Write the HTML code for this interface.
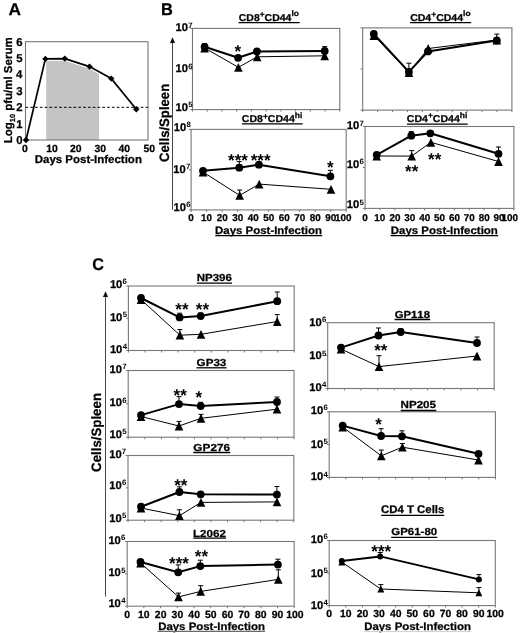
<!DOCTYPE html>
<html><head><meta charset="utf-8"><style>
html,body{margin:0;padding:0;background:#fff;}
svg{display:block;font-family:"Liberation Sans", sans-serif;font-kerning:none;text-rendering:geometricPrecision;filter:blur(0.45px);}
text{stroke:#000;stroke-width:0.25px;}
text.s,text.e{stroke:none;}
</style></head><body>
<svg width="520" height="633" viewBox="0 0 520 633">
<rect width="520" height="633" fill="#fff"/>
<g transform="translate(8.47,14.5) scale(1.0171,1)"><text x="0" y="0" font-size="17" font-weight="bold">A</text></g>
<polygon points="46.2,140 46.2,61 64.6,60.8 89.5,68.8 99.0,74.0 99.0,140" fill="#c4c4c4"/>
<rect x="25.5" y="41.7" width="122.5" height="98.3" fill="none" stroke="#777777" stroke-width="1.1"/>
<line x1="25.5" y1="107.3" x2="148" y2="107.3" stroke="#000" stroke-width="1" stroke-dasharray="2.7,2.1"/>
<text x="16.33" y="144" font-size="11.4" font-weight="bold">0</text>
<text x="16.18" y="127.62" font-size="11.4" font-weight="bold">1</text>
<text x="16.32" y="111.24" font-size="11.4" font-weight="bold">2</text>
<text x="16.27" y="94.86" font-size="11.4" font-weight="bold">3</text>
<text x="15.92" y="78.48" font-size="11.4" font-weight="bold">4</text>
<text x="16.18" y="62.1" font-size="11.4" font-weight="bold">5</text>
<text x="16.27" y="45.72" font-size="11.4" font-weight="bold">6</text>
<g transform="translate(22.12,151.7) scale(1.0000,1)"><text x="0" y="0" font-size="10.4" font-weight="bold">0</text></g>
<g transform="translate(46.2,151.7) scale(1.0000,1)"><text x="0" y="0" font-size="10.4" font-weight="bold">10</text></g>
<g transform="translate(69.95,151.7) scale(1.0000,1)"><text x="0" y="0" font-size="10.4" font-weight="bold">20</text></g>
<g transform="translate(94.51,151.7) scale(1.0000,1)"><text x="0" y="0" font-size="10.4" font-weight="bold">30</text></g>
<g transform="translate(118.55,151.7) scale(1.0000,1)"><text x="0" y="0" font-size="10.4" font-weight="bold">40</text></g>
<g transform="translate(143.47,151.7) scale(1.0000,1)"><text x="0" y="0" font-size="10.4" font-weight="bold">50</text></g>
<polyline points="26,140 45.4,58.9 64.8,58.6 89.5,66.6 111.3,78.6 136.3,109.2" fill="none" stroke="#000" stroke-width="1.7" stroke-linejoin="round"/>
<polygon points="26,136.8 29.2,140 26,143.2 22.8,140" fill="#000"/>
<polygon points="45.4,55.7 48.6,58.9 45.4,62.1 42.2,58.9" fill="#000"/>
<polygon points="64.8,55.4 68,58.6 64.8,61.8 61.6,58.6" fill="#000"/>
<polygon points="89.5,63.4 92.7,66.6 89.5,69.8 86.3,66.6" fill="#000"/>
<polygon points="111.3,75.4 114.5,78.6 111.3,81.8 108.1,78.6" fill="#000"/>
<polygon points="136.3,106 139.5,109.2 136.3,112.4 133.1,109.2" fill="#000"/>
<g transform="translate(34.73,163) scale(1.0261,1)"><text x="0" y="0" font-size="11.2" font-weight="bold">Days Post-Infection</text></g>
<g transform="translate(11.7,143.17) rotate(-90) scale(0.9985,1)"><text x="0" y="0" font-size="11.5" font-weight="bold">Log</text><text x="21.07" y="3" font-size="7.36" font-weight="bold">10</text><text x="32.46" y="0" font-size="11.5" font-weight="bold">pfu/ml Serum</text></g>
<g transform="translate(161.1,14.7) scale(0.9645,1)"><text x="0" y="0" font-size="17" font-weight="bold">B</text></g>
<g transform="translate(168.8,161.94) rotate(-90) scale(0.9663,1)"><text x="0" y="0" font-size="13.6" font-weight="bold">Cells/Spleen</text></g>
<line x1="172.5" y1="209.8" x2="172.5" y2="41" stroke="#444" stroke-width="1"/>
<polygon points="172.5,37.2 169.9,43.0 175.1,43.0" fill="#111"/>
<rect x="192.5" y="28.4" width="147.3" height="81.2" fill="none" stroke="#777777" stroke-width="1.1"/>
<line x1="192.5" y1="109.6" x2="192.5" y2="111.6" stroke="#777777" stroke-width="1"/>
<line x1="207.23" y1="109.6" x2="207.23" y2="111.6" stroke="#777777" stroke-width="1"/>
<line x1="221.96" y1="109.6" x2="221.96" y2="111.6" stroke="#777777" stroke-width="1"/>
<line x1="236.69" y1="109.6" x2="236.69" y2="111.6" stroke="#777777" stroke-width="1"/>
<line x1="251.42" y1="109.6" x2="251.42" y2="111.6" stroke="#777777" stroke-width="1"/>
<line x1="266.15" y1="109.6" x2="266.15" y2="111.6" stroke="#777777" stroke-width="1"/>
<line x1="280.88" y1="109.6" x2="280.88" y2="111.6" stroke="#777777" stroke-width="1"/>
<line x1="295.61" y1="109.6" x2="295.61" y2="111.6" stroke="#777777" stroke-width="1"/>
<line x1="310.34" y1="109.6" x2="310.34" y2="111.6" stroke="#777777" stroke-width="1"/>
<line x1="325.07" y1="109.6" x2="325.07" y2="111.6" stroke="#777777" stroke-width="1"/>
<line x1="339.8" y1="109.6" x2="339.8" y2="111.6" stroke="#777777" stroke-width="1"/>
<line x1="190.3" y1="28.4" x2="192.5" y2="28.4" stroke="#777777" stroke-width="1"/>
<line x1="190.3" y1="69" x2="192.5" y2="69" stroke="#777777" stroke-width="1"/>
<line x1="190.3" y1="109.6" x2="192.5" y2="109.6" stroke="#777777" stroke-width="1"/>
<text x="175.5" y="31.4" font-size="11.2" font-weight="bold">10</text>
<text x="188.16" y="27.6" font-size="7.8" font-weight="bold" class="e">7</text>
<text x="175.5" y="72.4" font-size="11.2" font-weight="bold">10</text>
<text x="188.21" y="68.6" font-size="7.8" font-weight="bold" class="e">6</text>
<text x="175.5" y="111" font-size="11.2" font-weight="bold">10</text>
<text x="188.26" y="107.2" font-size="7.8" font-weight="bold" class="e">5</text>
<g transform="translate(238.77,20.7) scale(1.0472,1)"><text x="0" y="0" font-size="10" font-weight="bold">CD8</text><text x="20" y="-3.6" font-size="8" font-weight="bold">+</text><text x="24.68" y="0" font-size="10" font-weight="bold">CD44</text><text x="50.24" y="-4.4" font-size="8" font-weight="bold">lo</text></g>
<line x1="238.5" y1="22.6" x2="299.7" y2="22.6" stroke="#000" stroke-width="1.3"/>
<polyline points="204.6,48 238.4,67.3 257.2,56.8 324.7,55.8" fill="none" stroke="#000" stroke-width="1" stroke-linejoin="round"/>
<polygon points="204.6,43.6 208.9,52.4 200.3,52.4" fill="#000"/>
<polygon points="238.4,62.9 242.7,71.7 234.1,71.7" fill="#000"/>
<polygon points="257.2,52.4 261.5,61.2 252.9,61.2" fill="#000"/>
<polygon points="324.7,51.4 329,60.2 320.4,60.2" fill="#000"/>
<polyline points="204.6,46.8 238.1,57.8 256.9,51.5 324.7,51" fill="none" stroke="#000" stroke-width="2" stroke-linejoin="round"/>
<circle cx="204.6" cy="46.8" r="3.9" fill="#000"/>
<circle cx="238.1" cy="57.8" r="3.9" fill="#000"/>
<circle cx="256.9" cy="51.5" r="3.9" fill="#000"/>
<circle cx="324.7" cy="51" r="3.9" fill="#000"/>
<line x1="324.7" y1="51" x2="324.7" y2="46.6" stroke="#000" stroke-width="1"/>
<line x1="322.2" y1="46.6" x2="327.2" y2="46.6" stroke="#000" stroke-width="1"/>
<line x1="204.6" y1="46.8" x2="204.6" y2="43.5" stroke="#000" stroke-width="1"/>
<line x1="202.1" y1="43.5" x2="207.1" y2="43.5" stroke="#000" stroke-width="1"/>
<text x="234.48" y="57.23" font-size="17" font-weight="bold" class="s">*</text>
<rect x="362.7" y="27.9" width="149.2" height="82.2" fill="none" stroke="#777777" stroke-width="1.1"/>
<line x1="362.7" y1="110.1" x2="362.7" y2="112.1" stroke="#777777" stroke-width="1"/>
<line x1="377.62" y1="110.1" x2="377.62" y2="112.1" stroke="#777777" stroke-width="1"/>
<line x1="392.54" y1="110.1" x2="392.54" y2="112.1" stroke="#777777" stroke-width="1"/>
<line x1="407.46" y1="110.1" x2="407.46" y2="112.1" stroke="#777777" stroke-width="1"/>
<line x1="422.38" y1="110.1" x2="422.38" y2="112.1" stroke="#777777" stroke-width="1"/>
<line x1="437.3" y1="110.1" x2="437.3" y2="112.1" stroke="#777777" stroke-width="1"/>
<line x1="452.22" y1="110.1" x2="452.22" y2="112.1" stroke="#777777" stroke-width="1"/>
<line x1="467.14" y1="110.1" x2="467.14" y2="112.1" stroke="#777777" stroke-width="1"/>
<line x1="482.06" y1="110.1" x2="482.06" y2="112.1" stroke="#777777" stroke-width="1"/>
<line x1="496.98" y1="110.1" x2="496.98" y2="112.1" stroke="#777777" stroke-width="1"/>
<line x1="511.9" y1="110.1" x2="511.9" y2="112.1" stroke="#777777" stroke-width="1"/>
<line x1="360.5" y1="27.9" x2="362.7" y2="27.9" stroke="#777777" stroke-width="1"/>
<line x1="360.5" y1="69" x2="362.7" y2="69" stroke="#777777" stroke-width="1"/>
<line x1="360.5" y1="110.1" x2="362.7" y2="110.1" stroke="#777777" stroke-width="1"/>
<g transform="translate(410.17,20.8) scale(1.0524,1)"><text x="0" y="0" font-size="10" font-weight="bold">CD4</text><text x="20" y="-3.6" font-size="8" font-weight="bold">+</text><text x="24.68" y="0" font-size="10" font-weight="bold">CD44</text><text x="50.24" y="-4.4" font-size="8" font-weight="bold">lo</text></g>
<line x1="410" y1="22.7" x2="471.2" y2="22.7" stroke="#000" stroke-width="1.3"/>
<line x1="408.9" y1="71.9" x2="408.9" y2="63.2" stroke="#000" stroke-width="1"/>
<line x1="406.4" y1="63.2" x2="411.4" y2="63.2" stroke="#000" stroke-width="1"/>
<line x1="496.8" y1="40.5" x2="496.8" y2="34.1" stroke="#000" stroke-width="1"/>
<line x1="494.3" y1="34.1" x2="499.3" y2="34.1" stroke="#000" stroke-width="1"/>
<polyline points="373.8,35.5 409,72.5 428.2,48.5 496.8,40" fill="none" stroke="#000" stroke-width="1" stroke-linejoin="round"/>
<polygon points="373.8,31.1 378.1,39.9 369.5,39.9" fill="#000"/>
<polygon points="409,68.1 413.3,76.9 404.7,76.9" fill="#000"/>
<polygon points="428.2,44.1 432.5,52.9 423.9,52.9" fill="#000"/>
<polygon points="496.8,35.6 501.1,44.4 492.5,44.4" fill="#000"/>
<polyline points="373.8,33.9 408.9,71.9 428,51.4 496.8,40.5" fill="none" stroke="#000" stroke-width="2" stroke-linejoin="round"/>
<circle cx="373.8" cy="33.9" r="3.9" fill="#000"/>
<circle cx="408.9" cy="71.9" r="3.9" fill="#000"/>
<circle cx="428" cy="51.4" r="3.9" fill="#000"/>
<circle cx="496.8" cy="40.5" r="3.9" fill="#000"/>
<rect x="191.1" y="129.4" width="155.1" height="80.5" fill="none" stroke="#777777" stroke-width="1.1"/>
<line x1="191.1" y1="209.9" x2="191.1" y2="211.9" stroke="#777777" stroke-width="1"/>
<line x1="206.61" y1="209.9" x2="206.61" y2="211.9" stroke="#777777" stroke-width="1"/>
<line x1="222.12" y1="209.9" x2="222.12" y2="211.9" stroke="#777777" stroke-width="1"/>
<line x1="237.63" y1="209.9" x2="237.63" y2="211.9" stroke="#777777" stroke-width="1"/>
<line x1="253.14" y1="209.9" x2="253.14" y2="211.9" stroke="#777777" stroke-width="1"/>
<line x1="268.65" y1="209.9" x2="268.65" y2="211.9" stroke="#777777" stroke-width="1"/>
<line x1="284.16" y1="209.9" x2="284.16" y2="211.9" stroke="#777777" stroke-width="1"/>
<line x1="299.67" y1="209.9" x2="299.67" y2="211.9" stroke="#777777" stroke-width="1"/>
<line x1="315.18" y1="209.9" x2="315.18" y2="211.9" stroke="#777777" stroke-width="1"/>
<line x1="330.69" y1="209.9" x2="330.69" y2="211.9" stroke="#777777" stroke-width="1"/>
<line x1="346.2" y1="209.9" x2="346.2" y2="211.9" stroke="#777777" stroke-width="1"/>
<line x1="188.9" y1="129.4" x2="191.1" y2="129.4" stroke="#777777" stroke-width="1"/>
<line x1="188.9" y1="169.9" x2="191.1" y2="169.9" stroke="#777777" stroke-width="1"/>
<line x1="188.9" y1="209.9" x2="191.1" y2="209.9" stroke="#777777" stroke-width="1"/>
<text x="173.8" y="130.9" font-size="11.2" font-weight="bold">10</text>
<text x="186.55" y="127.1" font-size="7.8" font-weight="bold" class="e">8</text>
<text x="173.3" y="172.5" font-size="11.2" font-weight="bold">10</text>
<text x="185.96" y="168.7" font-size="7.8" font-weight="bold" class="e">7</text>
<text x="173.6" y="210.8" font-size="11.2" font-weight="bold">10</text>
<text x="186.31" y="207" font-size="7.8" font-weight="bold" class="e">6</text>
<g transform="translate(241.87,122.2) scale(1.0536,1)"><text x="0" y="0" font-size="10" font-weight="bold">CD8</text><text x="20" y="-3.6" font-size="8" font-weight="bold">+</text><text x="24.68" y="0" font-size="10" font-weight="bold">CD44</text><text x="50.24" y="-4.4" font-size="8" font-weight="bold">hi</text></g>
<line x1="241.9" y1="123.8" x2="302.7" y2="123.8" stroke="#000" stroke-width="1.3"/>
<g transform="translate(188.35,220.6) scale(1.0000,1)"><text x="0" y="0" font-size="9.9" font-weight="bold">0</text></g>
<g transform="translate(201,220.6) scale(1.0000,1)"><text x="0" y="0" font-size="9.9" font-weight="bold">10</text></g>
<g transform="translate(216.65,220.6) scale(1.0000,1)"><text x="0" y="0" font-size="9.9" font-weight="bold">20</text></g>
<g transform="translate(232.21,220.6) scale(1.0000,1)"><text x="0" y="0" font-size="9.9" font-weight="bold">30</text></g>
<g transform="translate(247.76,220.6) scale(1.0000,1)"><text x="0" y="0" font-size="9.9" font-weight="bold">40</text></g>
<g transform="translate(263.19,220.6) scale(1.0000,1)"><text x="0" y="0" font-size="9.9" font-weight="bold">50</text></g>
<g transform="translate(278.68,220.6) scale(1.0000,1)"><text x="0" y="0" font-size="9.9" font-weight="bold">60</text></g>
<g transform="translate(294.15,220.6) scale(1.0000,1)"><text x="0" y="0" font-size="9.9" font-weight="bold">70</text></g>
<g transform="translate(309.72,220.6) scale(1.0000,1)"><text x="0" y="0" font-size="9.9" font-weight="bold">80</text></g>
<g transform="translate(325.22,220.6) scale(1.0000,1)"><text x="0" y="0" font-size="9.9" font-weight="bold">90</text></g>
<g transform="translate(334.93,220.6) scale(1.0000,1)"><text x="0" y="0" font-size="9.9" font-weight="bold">100</text></g>
<g transform="translate(215.03,233.8) scale(1.0601,1)"><text x="0" y="0" font-size="10.8" font-weight="bold">Days Post-Infection</text></g>
<line x1="215.3" y1="235.6" x2="322.2" y2="235.6" stroke="#000" stroke-width="1.3"/>
<line x1="239.3" y1="167.7" x2="239.3" y2="161.6" stroke="#000" stroke-width="1"/>
<line x1="236.8" y1="161.6" x2="241.8" y2="161.6" stroke="#000" stroke-width="1"/>
<line x1="239.7" y1="195.4" x2="239.7" y2="190" stroke="#000" stroke-width="1"/>
<line x1="237.2" y1="190" x2="242.2" y2="190" stroke="#000" stroke-width="1"/>
<line x1="330.4" y1="176.3" x2="330.4" y2="170.3" stroke="#000" stroke-width="1"/>
<line x1="327.9" y1="170.3" x2="332.9" y2="170.3" stroke="#000" stroke-width="1"/>
<polyline points="203,172 239.7,195.4 259.2,184.1 331,189.3" fill="none" stroke="#000" stroke-width="1" stroke-linejoin="round"/>
<polygon points="203,167.6 207.3,176.4 198.7,176.4" fill="#000"/>
<polygon points="239.7,191 244,199.8 235.4,199.8" fill="#000"/>
<polygon points="259.2,179.7 263.5,188.5 254.9,188.5" fill="#000"/>
<polygon points="331,184.9 335.3,193.7 326.7,193.7" fill="#000"/>
<polyline points="203,170.8 239.3,167.7 258.9,164.7 330.4,176.3" fill="none" stroke="#000" stroke-width="2" stroke-linejoin="round"/>
<circle cx="203" cy="170.8" r="3.9" fill="#000"/>
<circle cx="239.3" cy="167.7" r="3.9" fill="#000"/>
<circle cx="258.9" cy="164.7" r="3.9" fill="#000"/>
<circle cx="330.4" cy="176.3" r="3.9" fill="#000"/>
<text x="228.06" y="166.03" font-size="17" font-weight="bold" class="s">***</text>
<text x="250.66" y="166.03" font-size="17" font-weight="bold" class="s">***</text>
<text x="327.08" y="173.23" font-size="17" font-weight="bold" class="s">*</text>
<rect x="365.1" y="126.5" width="148.8" height="81.9" fill="none" stroke="#777777" stroke-width="1.1"/>
<line x1="365.1" y1="208.4" x2="365.1" y2="210.4" stroke="#777777" stroke-width="1"/>
<line x1="379.98" y1="208.4" x2="379.98" y2="210.4" stroke="#777777" stroke-width="1"/>
<line x1="394.86" y1="208.4" x2="394.86" y2="210.4" stroke="#777777" stroke-width="1"/>
<line x1="409.74" y1="208.4" x2="409.74" y2="210.4" stroke="#777777" stroke-width="1"/>
<line x1="424.62" y1="208.4" x2="424.62" y2="210.4" stroke="#777777" stroke-width="1"/>
<line x1="439.5" y1="208.4" x2="439.5" y2="210.4" stroke="#777777" stroke-width="1"/>
<line x1="454.38" y1="208.4" x2="454.38" y2="210.4" stroke="#777777" stroke-width="1"/>
<line x1="469.26" y1="208.4" x2="469.26" y2="210.4" stroke="#777777" stroke-width="1"/>
<line x1="484.14" y1="208.4" x2="484.14" y2="210.4" stroke="#777777" stroke-width="1"/>
<line x1="499.02" y1="208.4" x2="499.02" y2="210.4" stroke="#777777" stroke-width="1"/>
<line x1="513.9" y1="208.4" x2="513.9" y2="210.4" stroke="#777777" stroke-width="1"/>
<line x1="362.9" y1="126.5" x2="365.1" y2="126.5" stroke="#777777" stroke-width="1"/>
<line x1="362.9" y1="167.45" x2="365.1" y2="167.45" stroke="#777777" stroke-width="1"/>
<line x1="362.9" y1="208.4" x2="365.1" y2="208.4" stroke="#777777" stroke-width="1"/>
<text x="346.8" y="129.4" font-size="11.2" font-weight="bold">10</text>
<text x="359.46" y="125.6" font-size="7.8" font-weight="bold" class="e">7</text>
<text x="346.8" y="168.15" font-size="11.2" font-weight="bold">10</text>
<text x="359.51" y="164.35" font-size="7.8" font-weight="bold" class="e">6</text>
<text x="346.8" y="208.3" font-size="11.2" font-weight="bold">10</text>
<text x="359.56" y="204.5" font-size="7.8" font-weight="bold" class="e">5</text>
<g transform="translate(406.87,121.9) scale(1.0536,1)"><text x="0" y="0" font-size="10" font-weight="bold">CD4</text><text x="20" y="-3.6" font-size="8" font-weight="bold">+</text><text x="24.68" y="0" font-size="10" font-weight="bold">CD44</text><text x="50.24" y="-4.4" font-size="8" font-weight="bold">hi</text></g>
<line x1="406.9" y1="124.1" x2="467.7" y2="124.1" stroke="#000" stroke-width="1.3"/>
<g transform="translate(362.35,220.6) scale(1.0000,1)"><text x="0" y="0" font-size="9.9" font-weight="bold">0</text></g>
<g transform="translate(374.37,220.6) scale(1.0000,1)"><text x="0" y="0" font-size="9.9" font-weight="bold">10</text></g>
<g transform="translate(389.39,220.6) scale(1.0000,1)"><text x="0" y="0" font-size="9.9" font-weight="bold">20</text></g>
<g transform="translate(404.32,220.6) scale(1.0000,1)"><text x="0" y="0" font-size="9.9" font-weight="bold">30</text></g>
<g transform="translate(419.24,220.6) scale(1.0000,1)"><text x="0" y="0" font-size="9.9" font-weight="bold">40</text></g>
<g transform="translate(434.04,220.6) scale(1.0000,1)"><text x="0" y="0" font-size="9.9" font-weight="bold">50</text></g>
<g transform="translate(448.9,220.6) scale(1.0000,1)"><text x="0" y="0" font-size="9.9" font-weight="bold">60</text></g>
<g transform="translate(463.74,220.6) scale(1.0000,1)"><text x="0" y="0" font-size="9.9" font-weight="bold">70</text></g>
<g transform="translate(478.68,220.6) scale(1.0000,1)"><text x="0" y="0" font-size="9.9" font-weight="bold">80</text></g>
<g transform="translate(493.55,220.6) scale(1.0000,1)"><text x="0" y="0" font-size="9.9" font-weight="bold">90</text></g>
<g transform="translate(501.43,220.6) scale(1.0000,1)"><text x="0" y="0" font-size="9.9" font-weight="bold">100</text></g>
<g transform="translate(390.73,233.7) scale(1.0631,1)"><text x="0" y="0" font-size="10.8" font-weight="bold">Days Post-Infection</text></g>
<line x1="390.6" y1="235.6" x2="498.2" y2="235.6" stroke="#000" stroke-width="1.3"/>
<line x1="411.3" y1="135.7" x2="411.3" y2="131.6" stroke="#000" stroke-width="1"/>
<line x1="408.8" y1="131.6" x2="413.8" y2="131.6" stroke="#000" stroke-width="1"/>
<line x1="411.7" y1="156.1" x2="411.7" y2="150.6" stroke="#000" stroke-width="1"/>
<line x1="409.2" y1="150.6" x2="414.2" y2="150.6" stroke="#000" stroke-width="1"/>
<line x1="498.5" y1="153.8" x2="498.5" y2="147" stroke="#000" stroke-width="1"/>
<line x1="496" y1="147" x2="501" y2="147" stroke="#000" stroke-width="1"/>
<polyline points="376.7,156 411.7,156.1 430.9,142.3 498.5,161.5" fill="none" stroke="#000" stroke-width="1" stroke-linejoin="round"/>
<polygon points="376.7,151.6 381,160.4 372.4,160.4" fill="#000"/>
<polygon points="411.7,151.7 416,160.5 407.4,160.5" fill="#000"/>
<polygon points="430.9,137.9 435.2,146.7 426.6,146.7" fill="#000"/>
<polygon points="498.5,157.1 502.8,165.9 494.2,165.9" fill="#000"/>
<polyline points="376.7,154.8 411.3,135.7 430.3,133.3 498.5,153.8" fill="none" stroke="#000" stroke-width="2" stroke-linejoin="round"/>
<circle cx="376.7" cy="154.8" r="3.9" fill="#000"/>
<circle cx="411.3" cy="135.7" r="3.9" fill="#000"/>
<circle cx="430.3" cy="133.3" r="3.9" fill="#000"/>
<circle cx="498.5" cy="153.8" r="3.9" fill="#000"/>
<text x="405.07" y="177.33" font-size="17" font-weight="bold" class="s">**</text>
<text x="428.07" y="165.23" font-size="17" font-weight="bold" class="s">**</text>
<g transform="translate(92.34,270.3) scale(0.9447,1)"><text x="0" y="0" font-size="17" font-weight="bold">C</text></g>
<g transform="translate(101,471.94) rotate(-90) scale(0.9764,1)"><text x="0" y="0" font-size="13.6" font-weight="bold">Cells/Spleen</text></g>
<line x1="105.5" y1="596.5" x2="105.5" y2="295" stroke="#444" stroke-width="1"/>
<polygon points="105.5,291.2 102.9,297.0 108.1,297.0" fill="#111"/>
<rect x="128.4" y="286" width="165.8" height="64.5" fill="none" stroke="#777777" stroke-width="1.1"/>
<line x1="128.4" y1="350.5" x2="128.4" y2="352.5" stroke="#777777" stroke-width="1"/>
<line x1="144.98" y1="350.5" x2="144.98" y2="352.5" stroke="#777777" stroke-width="1"/>
<line x1="161.56" y1="350.5" x2="161.56" y2="352.5" stroke="#777777" stroke-width="1"/>
<line x1="178.14" y1="350.5" x2="178.14" y2="352.5" stroke="#777777" stroke-width="1"/>
<line x1="194.72" y1="350.5" x2="194.72" y2="352.5" stroke="#777777" stroke-width="1"/>
<line x1="211.3" y1="350.5" x2="211.3" y2="352.5" stroke="#777777" stroke-width="1"/>
<line x1="227.88" y1="350.5" x2="227.88" y2="352.5" stroke="#777777" stroke-width="1"/>
<line x1="244.46" y1="350.5" x2="244.46" y2="352.5" stroke="#777777" stroke-width="1"/>
<line x1="261.04" y1="350.5" x2="261.04" y2="352.5" stroke="#777777" stroke-width="1"/>
<line x1="277.62" y1="350.5" x2="277.62" y2="352.5" stroke="#777777" stroke-width="1"/>
<line x1="294.2" y1="350.5" x2="294.2" y2="352.5" stroke="#777777" stroke-width="1"/>
<line x1="126.2" y1="286" x2="128.4" y2="286" stroke="#777777" stroke-width="1"/>
<line x1="126.2" y1="318.25" x2="128.4" y2="318.25" stroke="#777777" stroke-width="1"/>
<line x1="126.2" y1="350.5" x2="128.4" y2="350.5" stroke="#777777" stroke-width="1"/>
<text x="109.9" y="287.8" font-size="11.2" font-weight="bold">10</text>
<text x="122.61" y="284" font-size="7.8" font-weight="bold" class="e">6</text>
<text x="109.9" y="320.75" font-size="11.2" font-weight="bold">10</text>
<text x="122.66" y="316.95" font-size="7.8" font-weight="bold" class="e">5</text>
<text x="109.9" y="352.6" font-size="11.2" font-weight="bold">10</text>
<text x="122.78" y="348.8" font-size="7.8" font-weight="bold" class="e">4</text>
<g transform="translate(196.73,280.9) scale(1.1282,1)"><text x="0" y="0" font-size="10.2" font-weight="bold">NP396</text></g>
<line x1="196.9" y1="283.2" x2="232.1" y2="283.2" stroke="#000" stroke-width="1.3"/>
<line x1="179.9" y1="335.2" x2="179.9" y2="329.6" stroke="#000" stroke-width="1"/>
<line x1="177.4" y1="329.6" x2="182.4" y2="329.6" stroke="#000" stroke-width="1"/>
<line x1="277.2" y1="301.2" x2="277.2" y2="292" stroke="#000" stroke-width="1"/>
<line x1="274.7" y1="292" x2="279.7" y2="292" stroke="#000" stroke-width="1"/>
<line x1="277.2" y1="321.5" x2="277.2" y2="314.6" stroke="#000" stroke-width="1"/>
<line x1="274.7" y1="314.6" x2="279.7" y2="314.6" stroke="#000" stroke-width="1"/>
<line x1="179.6" y1="317.4" x2="179.6" y2="313.2" stroke="#000" stroke-width="1"/>
<line x1="177.1" y1="313.2" x2="182.1" y2="313.2" stroke="#000" stroke-width="1"/>
<line x1="200.7" y1="316.1" x2="200.7" y2="313" stroke="#000" stroke-width="1"/>
<line x1="198.2" y1="313" x2="203.2" y2="313" stroke="#000" stroke-width="1"/>
<polyline points="141,299.5 179.9,335.2 201,334.3 277.2,321.5" fill="none" stroke="#000" stroke-width="1" stroke-linejoin="round"/>
<polygon points="141,295.1 145.3,303.9 136.7,303.9" fill="#000"/>
<polygon points="179.9,330.8 184.2,339.6 175.6,339.6" fill="#000"/>
<polygon points="201,329.9 205.3,338.7 196.7,338.7" fill="#000"/>
<polygon points="277.2,317.1 281.5,325.9 272.9,325.9" fill="#000"/>
<polyline points="141,298 179.6,317.4 200.7,316.1 277.2,301.2" fill="none" stroke="#000" stroke-width="2" stroke-linejoin="round"/>
<circle cx="141" cy="298" r="3.9" fill="#000"/>
<circle cx="179.6" cy="317.4" r="3.9" fill="#000"/>
<circle cx="200.7" cy="316.1" r="3.9" fill="#000"/>
<circle cx="277.2" cy="301.2" r="3.9" fill="#000"/>
<text x="175.37" y="315.33" font-size="17" font-weight="bold" class="s">**</text>
<text x="195.77" y="315.33" font-size="17" font-weight="bold" class="s">**</text>
<rect x="128.2" y="370.5" width="165.8" height="66.7" fill="none" stroke="#777777" stroke-width="1.1"/>
<line x1="128.2" y1="437.2" x2="128.2" y2="439.2" stroke="#777777" stroke-width="1"/>
<line x1="144.78" y1="437.2" x2="144.78" y2="439.2" stroke="#777777" stroke-width="1"/>
<line x1="161.36" y1="437.2" x2="161.36" y2="439.2" stroke="#777777" stroke-width="1"/>
<line x1="177.94" y1="437.2" x2="177.94" y2="439.2" stroke="#777777" stroke-width="1"/>
<line x1="194.52" y1="437.2" x2="194.52" y2="439.2" stroke="#777777" stroke-width="1"/>
<line x1="211.1" y1="437.2" x2="211.1" y2="439.2" stroke="#777777" stroke-width="1"/>
<line x1="227.68" y1="437.2" x2="227.68" y2="439.2" stroke="#777777" stroke-width="1"/>
<line x1="244.26" y1="437.2" x2="244.26" y2="439.2" stroke="#777777" stroke-width="1"/>
<line x1="260.84" y1="437.2" x2="260.84" y2="439.2" stroke="#777777" stroke-width="1"/>
<line x1="277.42" y1="437.2" x2="277.42" y2="439.2" stroke="#777777" stroke-width="1"/>
<line x1="294" y1="437.2" x2="294" y2="439.2" stroke="#777777" stroke-width="1"/>
<line x1="126" y1="370.5" x2="128.2" y2="370.5" stroke="#777777" stroke-width="1"/>
<line x1="126" y1="403.85" x2="128.2" y2="403.85" stroke="#777777" stroke-width="1"/>
<line x1="126" y1="437.2" x2="128.2" y2="437.2" stroke="#777777" stroke-width="1"/>
<text x="109.5" y="373" font-size="11.2" font-weight="bold">10</text>
<text x="122.16" y="369.2" font-size="7.8" font-weight="bold" class="e">7</text>
<text x="109.5" y="406.35" font-size="11.2" font-weight="bold">10</text>
<text x="122.21" y="402.55" font-size="7.8" font-weight="bold" class="e">6</text>
<text x="109.5" y="437.8" font-size="11.2" font-weight="bold">10</text>
<text x="122.26" y="434" font-size="7.8" font-weight="bold" class="e">5</text>
<g transform="translate(196.62,365.9) scale(1.1385,1)"><text x="0" y="0" font-size="10.2" font-weight="bold">GP33</text></g>
<line x1="196.5" y1="367.8" x2="226.5" y2="367.8" stroke="#000" stroke-width="1.3"/>
<line x1="179" y1="404.1" x2="179" y2="396.6" stroke="#000" stroke-width="1"/>
<line x1="176.5" y1="396.6" x2="181.5" y2="396.6" stroke="#000" stroke-width="1"/>
<line x1="179" y1="426" x2="179" y2="421.4" stroke="#000" stroke-width="1"/>
<line x1="176.5" y1="421.4" x2="181.5" y2="421.4" stroke="#000" stroke-width="1"/>
<line x1="201" y1="418.3" x2="201" y2="414.4" stroke="#000" stroke-width="1"/>
<line x1="198.5" y1="414.4" x2="203.5" y2="414.4" stroke="#000" stroke-width="1"/>
<line x1="277" y1="402" x2="277" y2="397" stroke="#000" stroke-width="1"/>
<line x1="274.5" y1="397" x2="279.5" y2="397" stroke="#000" stroke-width="1"/>
<line x1="200.7" y1="406.1" x2="200.7" y2="402.3" stroke="#000" stroke-width="1"/>
<line x1="198.2" y1="402.3" x2="203.2" y2="402.3" stroke="#000" stroke-width="1"/>
<polyline points="141,416.5 179,426 201,418.3 277,409.2" fill="none" stroke="#000" stroke-width="1" stroke-linejoin="round"/>
<polygon points="141,412.1 145.3,420.9 136.7,420.9" fill="#000"/>
<polygon points="179,421.6 183.3,430.4 174.7,430.4" fill="#000"/>
<polygon points="201,413.9 205.3,422.7 196.7,422.7" fill="#000"/>
<polygon points="277,404.8 281.3,413.6 272.7,413.6" fill="#000"/>
<polyline points="141,415.1 179,404.1 200.7,406.1 277,402" fill="none" stroke="#000" stroke-width="2" stroke-linejoin="round"/>
<circle cx="141" cy="415.1" r="3.9" fill="#000"/>
<circle cx="179" cy="404.1" r="3.9" fill="#000"/>
<circle cx="200.7" cy="406.1" r="3.9" fill="#000"/>
<circle cx="277" cy="402" r="3.9" fill="#000"/>
<text x="173.57" y="400.53" font-size="17" font-weight="bold" class="s">**</text>
<text x="195.58" y="403.13" font-size="17" font-weight="bold" class="s">*</text>
<rect x="128" y="455.5" width="165.8" height="64.7" fill="none" stroke="#777777" stroke-width="1.1"/>
<line x1="128" y1="520.2" x2="128" y2="522.2" stroke="#777777" stroke-width="1"/>
<line x1="144.58" y1="520.2" x2="144.58" y2="522.2" stroke="#777777" stroke-width="1"/>
<line x1="161.16" y1="520.2" x2="161.16" y2="522.2" stroke="#777777" stroke-width="1"/>
<line x1="177.74" y1="520.2" x2="177.74" y2="522.2" stroke="#777777" stroke-width="1"/>
<line x1="194.32" y1="520.2" x2="194.32" y2="522.2" stroke="#777777" stroke-width="1"/>
<line x1="210.9" y1="520.2" x2="210.9" y2="522.2" stroke="#777777" stroke-width="1"/>
<line x1="227.48" y1="520.2" x2="227.48" y2="522.2" stroke="#777777" stroke-width="1"/>
<line x1="244.06" y1="520.2" x2="244.06" y2="522.2" stroke="#777777" stroke-width="1"/>
<line x1="260.64" y1="520.2" x2="260.64" y2="522.2" stroke="#777777" stroke-width="1"/>
<line x1="277.22" y1="520.2" x2="277.22" y2="522.2" stroke="#777777" stroke-width="1"/>
<line x1="293.8" y1="520.2" x2="293.8" y2="522.2" stroke="#777777" stroke-width="1"/>
<line x1="125.8" y1="455.5" x2="128" y2="455.5" stroke="#777777" stroke-width="1"/>
<line x1="125.8" y1="487.85" x2="128" y2="487.85" stroke="#777777" stroke-width="1"/>
<line x1="125.8" y1="520.2" x2="128" y2="520.2" stroke="#777777" stroke-width="1"/>
<text x="109.2" y="458" font-size="11.2" font-weight="bold">10</text>
<text x="121.86" y="454.2" font-size="7.8" font-weight="bold" class="e">7</text>
<text x="109.2" y="489.25" font-size="11.2" font-weight="bold">10</text>
<text x="121.91" y="485.45" font-size="7.8" font-weight="bold" class="e">6</text>
<text x="109.2" y="522.2" font-size="11.2" font-weight="bold">10</text>
<text x="121.96" y="518.4" font-size="7.8" font-weight="bold" class="e">5</text>
<g transform="translate(193.32,450.9) scale(1.1592,1)"><text x="0" y="0" font-size="10.2" font-weight="bold">GP276</text></g>
<line x1="193.2" y1="452.5" x2="230.3" y2="452.5" stroke="#000" stroke-width="1.3"/>
<line x1="179.4" y1="492" x2="179.4" y2="486.8" stroke="#000" stroke-width="1"/>
<line x1="176.9" y1="486.8" x2="181.9" y2="486.8" stroke="#000" stroke-width="1"/>
<line x1="179.4" y1="515.7" x2="179.4" y2="509.8" stroke="#000" stroke-width="1"/>
<line x1="176.9" y1="509.8" x2="181.9" y2="509.8" stroke="#000" stroke-width="1"/>
<line x1="276.9" y1="494.6" x2="276.9" y2="486.5" stroke="#000" stroke-width="1"/>
<line x1="274.4" y1="486.5" x2="279.4" y2="486.5" stroke="#000" stroke-width="1"/>
<polyline points="141,508 179.4,515.7 201,502.4 277,501.9" fill="none" stroke="#000" stroke-width="1" stroke-linejoin="round"/>
<polygon points="141,503.6 145.3,512.4 136.7,512.4" fill="#000"/>
<polygon points="179.4,511.3 183.7,520.1 175.1,520.1" fill="#000"/>
<polygon points="201,498 205.3,506.8 196.7,506.8" fill="#000"/>
<polygon points="277,497.5 281.3,506.3 272.7,506.3" fill="#000"/>
<polyline points="141,506.7 179.4,492 200.7,494.3 276.9,494.6" fill="none" stroke="#000" stroke-width="2" stroke-linejoin="round"/>
<circle cx="141" cy="506.7" r="3.9" fill="#000"/>
<circle cx="179.4" cy="492" r="3.9" fill="#000"/>
<circle cx="200.7" cy="494.3" r="3.9" fill="#000"/>
<circle cx="276.9" cy="494.6" r="3.9" fill="#000"/>
<text x="174.17" y="490.73" font-size="17" font-weight="bold" class="s">**</text>
<rect x="127.2" y="541.5" width="167" height="64.7" fill="none" stroke="#777777" stroke-width="1.1"/>
<line x1="127.2" y1="606.2" x2="127.2" y2="608.2" stroke="#777777" stroke-width="1"/>
<line x1="143.9" y1="606.2" x2="143.9" y2="608.2" stroke="#777777" stroke-width="1"/>
<line x1="160.6" y1="606.2" x2="160.6" y2="608.2" stroke="#777777" stroke-width="1"/>
<line x1="177.3" y1="606.2" x2="177.3" y2="608.2" stroke="#777777" stroke-width="1"/>
<line x1="194" y1="606.2" x2="194" y2="608.2" stroke="#777777" stroke-width="1"/>
<line x1="210.7" y1="606.2" x2="210.7" y2="608.2" stroke="#777777" stroke-width="1"/>
<line x1="227.4" y1="606.2" x2="227.4" y2="608.2" stroke="#777777" stroke-width="1"/>
<line x1="244.1" y1="606.2" x2="244.1" y2="608.2" stroke="#777777" stroke-width="1"/>
<line x1="260.8" y1="606.2" x2="260.8" y2="608.2" stroke="#777777" stroke-width="1"/>
<line x1="277.5" y1="606.2" x2="277.5" y2="608.2" stroke="#777777" stroke-width="1"/>
<line x1="294.2" y1="606.2" x2="294.2" y2="608.2" stroke="#777777" stroke-width="1"/>
<line x1="125" y1="541.5" x2="127.2" y2="541.5" stroke="#777777" stroke-width="1"/>
<line x1="125" y1="573.85" x2="127.2" y2="573.85" stroke="#777777" stroke-width="1"/>
<line x1="125" y1="606.2" x2="127.2" y2="606.2" stroke="#777777" stroke-width="1"/>
<text x="108.4" y="544" font-size="11.2" font-weight="bold">10</text>
<text x="121.11" y="540.2" font-size="7.8" font-weight="bold" class="e">6</text>
<text x="108.4" y="576.45" font-size="11.2" font-weight="bold">10</text>
<text x="121.16" y="572.65" font-size="7.8" font-weight="bold" class="e">5</text>
<text x="108.4" y="607" font-size="11.2" font-weight="bold">10</text>
<text x="121.28" y="603.2" font-size="7.8" font-weight="bold" class="e">4</text>
<g transform="translate(193.02,536.6) scale(1.1390,1)"><text x="0" y="0" font-size="10.2" font-weight="bold">L2062</text></g>
<line x1="193.2" y1="538.2" x2="226.1" y2="538.2" stroke="#000" stroke-width="1.3"/>
<line x1="178.2" y1="572.3" x2="178.2" y2="564.9" stroke="#000" stroke-width="1"/>
<line x1="175.7" y1="564.9" x2="180.7" y2="564.9" stroke="#000" stroke-width="1"/>
<line x1="178.5" y1="596.9" x2="178.5" y2="593.1" stroke="#000" stroke-width="1"/>
<line x1="176" y1="593.1" x2="181" y2="593.1" stroke="#000" stroke-width="1"/>
<line x1="200.3" y1="566.1" x2="200.3" y2="560.2" stroke="#000" stroke-width="1"/>
<line x1="197.8" y1="560.2" x2="202.8" y2="560.2" stroke="#000" stroke-width="1"/>
<line x1="200.7" y1="591.4" x2="200.7" y2="585.7" stroke="#000" stroke-width="1"/>
<line x1="198.2" y1="585.7" x2="203.2" y2="585.7" stroke="#000" stroke-width="1"/>
<line x1="277.9" y1="564.6" x2="277.9" y2="559.2" stroke="#000" stroke-width="1"/>
<line x1="275.4" y1="559.2" x2="280.4" y2="559.2" stroke="#000" stroke-width="1"/>
<line x1="278.3" y1="579.4" x2="278.3" y2="569.8" stroke="#000" stroke-width="1"/>
<line x1="275.8" y1="569.8" x2="280.8" y2="569.8" stroke="#000" stroke-width="1"/>
<polyline points="140.5,563 178.5,596.9 200.7,591.4 278.3,579.4" fill="none" stroke="#000" stroke-width="1" stroke-linejoin="round"/>
<polygon points="140.5,558.6 144.8,567.4 136.2,567.4" fill="#000"/>
<polygon points="178.5,592.5 182.8,601.3 174.2,601.3" fill="#000"/>
<polygon points="200.7,587 205,595.8 196.4,595.8" fill="#000"/>
<polygon points="278.3,575 282.6,583.8 274,583.8" fill="#000"/>
<polyline points="140.5,562 178.2,572.3 200.3,566.1 277.9,564.6" fill="none" stroke="#000" stroke-width="2" stroke-linejoin="round"/>
<circle cx="140.5" cy="562" r="3.9" fill="#000"/>
<circle cx="178.2" cy="572.3" r="3.9" fill="#000"/>
<circle cx="200.3" cy="566.1" r="3.9" fill="#000"/>
<circle cx="277.9" cy="564.6" r="3.9" fill="#000"/>
<text x="169.06" y="569.13" font-size="17" font-weight="bold" class="s">***</text>
<text x="194.87" y="561.93" font-size="17" font-weight="bold" class="s">**</text>
<g transform="translate(124.32,618.3) scale(1.0000,1)"><text x="0" y="0" font-size="10.4" font-weight="bold">0</text></g>
<g transform="translate(138,618.3) scale(1.0000,1)"><text x="0" y="0" font-size="10.4" font-weight="bold">10</text></g>
<g transform="translate(154.85,618.3) scale(1.0000,1)"><text x="0" y="0" font-size="10.4" font-weight="bold">20</text></g>
<g transform="translate(171.61,618.3) scale(1.0000,1)"><text x="0" y="0" font-size="10.4" font-weight="bold">30</text></g>
<g transform="translate(188.35,618.3) scale(1.0000,1)"><text x="0" y="0" font-size="10.4" font-weight="bold">40</text></g>
<g transform="translate(204.97,618.3) scale(1.0000,1)"><text x="0" y="0" font-size="10.4" font-weight="bold">50</text></g>
<g transform="translate(221.64,618.3) scale(1.0000,1)"><text x="0" y="0" font-size="10.4" font-weight="bold">60</text></g>
<g transform="translate(238.31,618.3) scale(1.0000,1)"><text x="0" y="0" font-size="10.4" font-weight="bold">70</text></g>
<g transform="translate(255.06,618.3) scale(1.0000,1)"><text x="0" y="0" font-size="10.4" font-weight="bold">80</text></g>
<g transform="translate(271.75,618.3) scale(1.0000,1)"><text x="0" y="0" font-size="10.4" font-weight="bold">90</text></g>
<g transform="translate(286.31,618.3) scale(1.0000,1)"><text x="0" y="0" font-size="10.4" font-weight="bold">100</text></g>
<g transform="translate(158.13,629.7) scale(1.0591,1)"><text x="0" y="0" font-size="10.8" font-weight="bold">Days Post-Infection</text></g>
<line x1="157.5" y1="631.4" x2="265.1" y2="631.4" stroke="#6a6a6a" stroke-width="1.1"/>
<rect x="327.7" y="322.7" width="166.5" height="65.8" fill="none" stroke="#777777" stroke-width="1.1"/>
<line x1="327.7" y1="388.5" x2="327.7" y2="390.5" stroke="#777777" stroke-width="1"/>
<line x1="344.35" y1="388.5" x2="344.35" y2="390.5" stroke="#777777" stroke-width="1"/>
<line x1="361" y1="388.5" x2="361" y2="390.5" stroke="#777777" stroke-width="1"/>
<line x1="377.65" y1="388.5" x2="377.65" y2="390.5" stroke="#777777" stroke-width="1"/>
<line x1="394.3" y1="388.5" x2="394.3" y2="390.5" stroke="#777777" stroke-width="1"/>
<line x1="410.95" y1="388.5" x2="410.95" y2="390.5" stroke="#777777" stroke-width="1"/>
<line x1="427.6" y1="388.5" x2="427.6" y2="390.5" stroke="#777777" stroke-width="1"/>
<line x1="444.25" y1="388.5" x2="444.25" y2="390.5" stroke="#777777" stroke-width="1"/>
<line x1="460.9" y1="388.5" x2="460.9" y2="390.5" stroke="#777777" stroke-width="1"/>
<line x1="477.55" y1="388.5" x2="477.55" y2="390.5" stroke="#777777" stroke-width="1"/>
<line x1="494.2" y1="388.5" x2="494.2" y2="390.5" stroke="#777777" stroke-width="1"/>
<line x1="325.5" y1="322.7" x2="327.7" y2="322.7" stroke="#777777" stroke-width="1"/>
<line x1="325.5" y1="355.6" x2="327.7" y2="355.6" stroke="#777777" stroke-width="1"/>
<line x1="325.5" y1="388.5" x2="327.7" y2="388.5" stroke="#777777" stroke-width="1"/>
<text x="309.2" y="325.8" font-size="11.2" font-weight="bold">10</text>
<text x="321.91" y="322" font-size="7.8" font-weight="bold" class="e">6</text>
<text x="309.2" y="359.4" font-size="11.2" font-weight="bold">10</text>
<text x="321.96" y="355.6" font-size="7.8" font-weight="bold" class="e">5</text>
<text x="309.2" y="390.7" font-size="11.2" font-weight="bold">10</text>
<text x="322.08" y="386.9" font-size="7.8" font-weight="bold" class="e">4</text>
<g transform="translate(394.74,317.5) scale(1.1088,1)"><text x="0" y="0" font-size="10.2" font-weight="bold">GP118</text></g>
<line x1="394.6" y1="319.5" x2="430.2" y2="319.5" stroke="#000" stroke-width="1.3"/>
<line x1="378.5" y1="335.5" x2="378.5" y2="328" stroke="#000" stroke-width="1"/>
<line x1="376" y1="328" x2="381" y2="328" stroke="#000" stroke-width="1"/>
<line x1="379" y1="366.6" x2="379" y2="355.7" stroke="#000" stroke-width="1"/>
<line x1="376.5" y1="355.7" x2="381.5" y2="355.7" stroke="#000" stroke-width="1"/>
<line x1="477" y1="343" x2="477" y2="337" stroke="#000" stroke-width="1"/>
<line x1="474.5" y1="337" x2="479.5" y2="337" stroke="#000" stroke-width="1"/>
<line x1="400.7" y1="332" x2="400.7" y2="328.8" stroke="#000" stroke-width="1"/>
<line x1="398.2" y1="328.8" x2="403.2" y2="328.8" stroke="#000" stroke-width="1"/>
<polyline points="341,349 379,366.6 477,356" fill="none" stroke="#000" stroke-width="1" stroke-linejoin="round"/>
<polygon points="341,344.6 345.3,353.4 336.7,353.4" fill="#000"/>
<polygon points="379,362.2 383.3,371 374.7,371" fill="#000"/>
<polygon points="477,351.6 481.3,360.4 472.7,360.4" fill="#000"/>
<polyline points="341,347.6 378.5,335.5 400.7,332 477,343" fill="none" stroke="#000" stroke-width="2" stroke-linejoin="round"/>
<circle cx="341" cy="347.6" r="3.9" fill="#000"/>
<circle cx="378.5" cy="335.5" r="3.9" fill="#000"/>
<circle cx="400.7" cy="332" r="3.9" fill="#000"/>
<circle cx="477" cy="343" r="3.9" fill="#000"/>
<text x="374.17" y="355.83" font-size="17" font-weight="bold" class="s">**</text>
<rect x="329.2" y="411.8" width="166.2" height="65.6" fill="none" stroke="#777777" stroke-width="1.1"/>
<line x1="329.2" y1="477.4" x2="329.2" y2="479.4" stroke="#777777" stroke-width="1"/>
<line x1="345.82" y1="477.4" x2="345.82" y2="479.4" stroke="#777777" stroke-width="1"/>
<line x1="362.44" y1="477.4" x2="362.44" y2="479.4" stroke="#777777" stroke-width="1"/>
<line x1="379.06" y1="477.4" x2="379.06" y2="479.4" stroke="#777777" stroke-width="1"/>
<line x1="395.68" y1="477.4" x2="395.68" y2="479.4" stroke="#777777" stroke-width="1"/>
<line x1="412.3" y1="477.4" x2="412.3" y2="479.4" stroke="#777777" stroke-width="1"/>
<line x1="428.92" y1="477.4" x2="428.92" y2="479.4" stroke="#777777" stroke-width="1"/>
<line x1="445.54" y1="477.4" x2="445.54" y2="479.4" stroke="#777777" stroke-width="1"/>
<line x1="462.16" y1="477.4" x2="462.16" y2="479.4" stroke="#777777" stroke-width="1"/>
<line x1="478.78" y1="477.4" x2="478.78" y2="479.4" stroke="#777777" stroke-width="1"/>
<line x1="495.4" y1="477.4" x2="495.4" y2="479.4" stroke="#777777" stroke-width="1"/>
<line x1="327" y1="411.8" x2="329.2" y2="411.8" stroke="#777777" stroke-width="1"/>
<line x1="327" y1="444.6" x2="329.2" y2="444.6" stroke="#777777" stroke-width="1"/>
<line x1="327" y1="477.4" x2="329.2" y2="477.4" stroke="#777777" stroke-width="1"/>
<text x="310.7" y="414.1" font-size="11.2" font-weight="bold">10</text>
<text x="323.41" y="410.3" font-size="7.8" font-weight="bold" class="e">6</text>
<text x="310.7" y="447.6" font-size="11.2" font-weight="bold">10</text>
<text x="323.46" y="443.8" font-size="7.8" font-weight="bold" class="e">5</text>
<text x="310.7" y="480.4" font-size="11.2" font-weight="bold">10</text>
<text x="323.58" y="476.6" font-size="7.8" font-weight="bold" class="e">4</text>
<g transform="translate(400.52,408.2) scale(1.1383,1)"><text x="0" y="0" font-size="10.2" font-weight="bold">NP205</text></g>
<line x1="400.7" y1="410.5" x2="436.3" y2="410.5" stroke="#000" stroke-width="1.3"/>
<line x1="381.1" y1="436" x2="381.1" y2="428.7" stroke="#000" stroke-width="1"/>
<line x1="378.6" y1="428.7" x2="383.6" y2="428.7" stroke="#000" stroke-width="1"/>
<line x1="381.3" y1="455.8" x2="381.3" y2="450.1" stroke="#000" stroke-width="1"/>
<line x1="378.8" y1="450.1" x2="383.8" y2="450.1" stroke="#000" stroke-width="1"/>
<line x1="402" y1="436.3" x2="402" y2="430.8" stroke="#000" stroke-width="1"/>
<line x1="399.5" y1="430.8" x2="404.5" y2="430.8" stroke="#000" stroke-width="1"/>
<line x1="402.4" y1="447.2" x2="402.4" y2="443.5" stroke="#000" stroke-width="1"/>
<line x1="399.9" y1="443.5" x2="404.9" y2="443.5" stroke="#000" stroke-width="1"/>
<polyline points="342.7,427 381.3,455.8 402.4,447.2 478.5,460" fill="none" stroke="#000" stroke-width="1" stroke-linejoin="round"/>
<polygon points="342.7,422.6 347,431.4 338.4,431.4" fill="#000"/>
<polygon points="381.3,451.4 385.6,460.2 377,460.2" fill="#000"/>
<polygon points="402.4,442.8 406.7,451.6 398.1,451.6" fill="#000"/>
<polygon points="478.5,455.6 482.8,464.4 474.2,464.4" fill="#000"/>
<polyline points="342.7,425.6 381.1,436 402,436.3 478.5,453.8" fill="none" stroke="#000" stroke-width="2" stroke-linejoin="round"/>
<circle cx="342.7" cy="425.6" r="3.9" fill="#000"/>
<circle cx="381.1" cy="436" r="3.9" fill="#000"/>
<circle cx="402" cy="436.3" r="3.9" fill="#000"/>
<circle cx="478.5" cy="453.8" r="3.9" fill="#000"/>
<text x="375.18" y="430.33" font-size="17" font-weight="bold" class="s">*</text>
<g transform="translate(381.03,513) scale(1.0361,1)"><text x="0" y="0" font-size="11" font-weight="bold">CD4 T Cells</text></g>
<line x1="381.2" y1="515.4" x2="444.2" y2="515.4" stroke="#000" stroke-width="1.3"/>
<rect x="329.2" y="540.5" width="166.1" height="65.1" fill="none" stroke="#777777" stroke-width="1.1"/>
<line x1="329.2" y1="605.6" x2="329.2" y2="607.6" stroke="#777777" stroke-width="1"/>
<line x1="345.81" y1="605.6" x2="345.81" y2="607.6" stroke="#777777" stroke-width="1"/>
<line x1="362.42" y1="605.6" x2="362.42" y2="607.6" stroke="#777777" stroke-width="1"/>
<line x1="379.03" y1="605.6" x2="379.03" y2="607.6" stroke="#777777" stroke-width="1"/>
<line x1="395.64" y1="605.6" x2="395.64" y2="607.6" stroke="#777777" stroke-width="1"/>
<line x1="412.25" y1="605.6" x2="412.25" y2="607.6" stroke="#777777" stroke-width="1"/>
<line x1="428.86" y1="605.6" x2="428.86" y2="607.6" stroke="#777777" stroke-width="1"/>
<line x1="445.47" y1="605.6" x2="445.47" y2="607.6" stroke="#777777" stroke-width="1"/>
<line x1="462.08" y1="605.6" x2="462.08" y2="607.6" stroke="#777777" stroke-width="1"/>
<line x1="478.69" y1="605.6" x2="478.69" y2="607.6" stroke="#777777" stroke-width="1"/>
<line x1="495.3" y1="605.6" x2="495.3" y2="607.6" stroke="#777777" stroke-width="1"/>
<line x1="327" y1="540.5" x2="329.2" y2="540.5" stroke="#777777" stroke-width="1"/>
<line x1="327" y1="573.05" x2="329.2" y2="573.05" stroke="#777777" stroke-width="1"/>
<line x1="327" y1="605.6" x2="329.2" y2="605.6" stroke="#777777" stroke-width="1"/>
<text x="310.7" y="542.8" font-size="11.2" font-weight="bold">10</text>
<text x="323.41" y="539" font-size="7.8" font-weight="bold" class="e">6</text>
<text x="310.7" y="576.55" font-size="11.2" font-weight="bold">10</text>
<text x="323.46" y="572.75" font-size="7.8" font-weight="bold" class="e">5</text>
<text x="310.7" y="608.5" font-size="11.2" font-weight="bold">10</text>
<text x="323.58" y="604.7" font-size="7.8" font-weight="bold" class="e">4</text>
<g transform="translate(391.33,535) scale(1.1228,1)"><text x="0" y="0" font-size="10.2" font-weight="bold">GP61-80</text></g>
<line x1="391.2" y1="537.3" x2="437.3" y2="537.3" stroke="#000" stroke-width="1.3"/>
<line x1="380.8" y1="589" x2="380.8" y2="584.6" stroke="#000" stroke-width="1"/>
<line x1="378.3" y1="584.6" x2="383.3" y2="584.6" stroke="#000" stroke-width="1"/>
<line x1="478.9" y1="579.4" x2="478.9" y2="574.6" stroke="#000" stroke-width="1"/>
<line x1="476.4" y1="574.6" x2="481.4" y2="574.6" stroke="#000" stroke-width="1"/>
<line x1="478.9" y1="592.8" x2="478.9" y2="587.6" stroke="#000" stroke-width="1"/>
<line x1="476.4" y1="587.6" x2="481.4" y2="587.6" stroke="#000" stroke-width="1"/>
<line x1="380.2" y1="556.4" x2="380.2" y2="552.5" stroke="#000" stroke-width="1"/>
<line x1="377.7" y1="552.5" x2="382.7" y2="552.5" stroke="#000" stroke-width="1"/>
<polyline points="341.8,562 380.8,589 478.9,592.8" fill="none" stroke="#000" stroke-width="1" stroke-linejoin="round"/>
<polygon points="341.8,558.5 345.3,565.5 338.3,565.5" fill="#000"/>
<polygon points="380.8,585.5 384.3,592.5 377.3,592.5" fill="#000"/>
<polygon points="478.9,589.3 482.4,596.3 475.4,596.3" fill="#000"/>
<polyline points="341.8,561.1 380.2,556.4 478.9,579.4" fill="none" stroke="#000" stroke-width="2" stroke-linejoin="round"/>
<circle cx="341.8" cy="561.1" r="3" fill="#000"/>
<circle cx="380.2" cy="556.4" r="3" fill="#000"/>
<circle cx="478.9" cy="579.4" r="3" fill="#000"/>
<text x="371.36" y="556.93" font-size="17" font-weight="bold" class="s">***</text>
<g transform="translate(326.32,617.2) scale(1.0000,1)"><text x="0" y="0" font-size="10.4" font-weight="bold">0</text></g>
<g transform="translate(339.91,617.2) scale(1.0000,1)"><text x="0" y="0" font-size="10.4" font-weight="bold">10</text></g>
<g transform="translate(356.67,617.2) scale(1.0000,1)"><text x="0" y="0" font-size="10.4" font-weight="bold">20</text></g>
<g transform="translate(373.34,617.2) scale(1.0000,1)"><text x="0" y="0" font-size="10.4" font-weight="bold">30</text></g>
<g transform="translate(389.99,617.2) scale(1.0000,1)"><text x="0" y="0" font-size="10.4" font-weight="bold">40</text></g>
<g transform="translate(406.52,617.2) scale(1.0000,1)"><text x="0" y="0" font-size="10.4" font-weight="bold">50</text></g>
<g transform="translate(423.1,617.2) scale(1.0000,1)"><text x="0" y="0" font-size="10.4" font-weight="bold">60</text></g>
<g transform="translate(439.68,617.2) scale(1.0000,1)"><text x="0" y="0" font-size="10.4" font-weight="bold">70</text></g>
<g transform="translate(456.34,617.2) scale(1.0000,1)"><text x="0" y="0" font-size="10.4" font-weight="bold">80</text></g>
<g transform="translate(472.94,617.2) scale(1.0000,1)"><text x="0" y="0" font-size="10.4" font-weight="bold">90</text></g>
<g transform="translate(486.51,617.2) scale(1.0000,1)"><text x="0" y="0" font-size="10.4" font-weight="bold">100</text></g>
<g transform="translate(364.13,629.8) scale(1.0591,1)"><text x="0" y="0" font-size="10.8" font-weight="bold">Days Post-Infection</text></g>
<line x1="364.2" y1="631.6" x2="471.2" y2="631.6" stroke="#cfcfcf" stroke-width="1"/>
</svg>
</body></html>
